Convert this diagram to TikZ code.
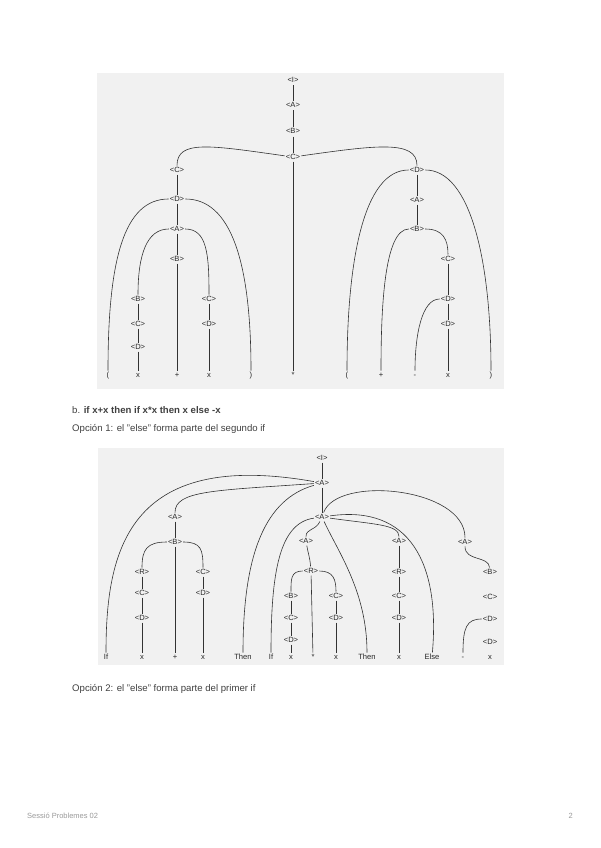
\documentclass[tikz,border=0pt]{standalone}
\usepackage{fontspec}
\setmainfont{Liberation Sans}
\definecolor{boxgray}{HTML}{F1F1F1}
\definecolor{txtgray}{HTML}{404040}
\definecolor{footgray}{HTML}{9A9A9A}

\begin{document}
\begin{tikzpicture}[x=1pt, y=-1pt,
        nt/.style={inner sep=1pt, text height=5.3pt, text depth=1.3pt, font=\fontsize{7.6}{8}\selectfont, text=black!85},
        lf/.style={inner sep=1pt, text height=5.3pt, text depth=1.3pt, font=\fontsize{7.6}{8}\selectfont, text=black!85},
        ln/.style={draw=black!80, line width=0.6pt},
        txt/.style={anchor=base west, inner sep=0pt, font=\fontsize{9.6}{11}\selectfont, text=txtgray},
        foot/.style={anchor=base west, inner sep=0pt, font=\fontsize{7.5}{9}\selectfont, text=footgray}]

        \fill[white] (0,0) rectangle (600,848);
        \useasboundingbox (0,0) rectangle (600,848);
        \fill[boxgray] (97,73) rectangle (504,389);
        \fill[boxgray] (98,448) rectangle (504,665);

        % first tree
        \node[nt] (I1) at (293,81) {<I>};
        \node[nt] (A1) at (293,106) {<A>};
        \node[nt] (B1) at (293,132) {<B>};
        \node[nt] (C1) at (293,157) {<C>};
        \node[nt] (Cl) at (177,170) {<C>};
        \node[nt] (Dl) at (177,199) {<D>};
        \node[nt] (Al) at (177,229) {<A>};
        \node[nt] (Bm) at (177,259) {<B>};
        \node[nt] (Bll) at (138,299) {<B>};
        \node[nt] (Cll) at (138,324) {<C>};
        \node[nt] (Dll) at (138,347) {<D>};
        \node[nt] (Clr) at (209,299) {<C>};
        \node[nt] (Dlr) at (209,324) {<D>};
        \node[nt] (Dr) at (417,170) {<D>};
        \node[nt] (Ar) at (417,200) {<A>};
        \node[nt] (Br) at (417,229) {<B>};
        \node[nt] (Cr) at (448,259) {<C>};
        \node[nt] (Dr1) at (448,299) {<D>};
        \node[nt] (Dr2) at (448,324) {<D>};

        \node[lf] (lpar1) at (108,375) {(};
        \node[lf] (xa) at (138,375) {x};
        \node[lf] (plusa) at (177,375) {+};
        \node[lf] (xb) at (209,375) {x};
        \node[lf] (rpar1) at (251,375) {)};
        \node[lf] (star1) at (293,375) {*};
        \node[lf] (lpar2) at (347,375) {(};
        \node[lf] (plusb) at (381,375) {+};
        \node[lf] (minus1) at (415,375) {-};
        \node[lf] (xc) at (448,375) {x};
        \node[lf] (rpar2) at (491,375) {)};

        \foreach \a/\b in {I1/A1, A1/B1, B1/C1, C1/star1, Cl/Dl, Dl/Al, Al/Bm, Bm/plusa,
                Bll/Cll, Cll/Dll, Dll/xa, Clr/Dlr, Dlr/xb, Dr/Ar, Ar/Br, Cr/Dr1, Dr1/Dr2, Dr2/xc}
            \draw[ln] (\a) -- (\b);

        \draw[ln] (C1) to[out=172, in=90, out distance=75pt, in distance=26pt] (Cl);
        \draw[ln] (C1) to[out=8, in=90, out distance=75pt, in distance=26pt] (Dr);
        \draw[ln] (Dl) to[out=180, in=90, out distance=45pt, in distance=110pt] (lpar1);
        \draw[ln] (Dl) to[out=0, in=90, out distance=45pt, in distance=110pt] (rpar1);
        \draw[ln] (Al) to[out=180, in=90, out distance=22pt, in distance=40pt] (Bll);
        \draw[ln] (Al) to[out=0, in=90, out distance=22pt, in distance=40pt] (Clr);
        \draw[ln] (Dr) to[out=180, in=90, out distance=45pt, in distance=110pt] (lpar2);
        \draw[ln] (Dr) to[out=0, in=90, out distance=45pt, in distance=110pt] (rpar2);
        \draw[ln] (Br) to[out=180, in=90, out distance=25pt, in distance=60pt] (plusb);
        \draw[ln] (Br) to[out=0, in=90, out distance=18pt, in distance=15pt] (Cr);
        \draw[ln] (Dr1) to[out=180, in=90, out distance=18pt, in distance=35pt] (minus1);

        % texts
        \node[txt] (tb) at (72,413) {b. \textbf{if x+x then if x*x then x else -x}};
        \node[txt] (op1) at (72,431) {Opción 1: el "else" forma parte del segundo if};

        % second tree
        \node[nt] (I2) at (322,458) {<I>};
        \node[nt] (Aa) at (322,483) {<A>};
        \node[nt] (Ab) at (322,517) {<A>};
        \node[nt] (Ac) at (175,517) {<A>};
        \node[nt] (Bc) at (175,542) {<B>};
        \node[nt] (Rc) at (142,572) {<R>};
        \node[nt] (Cc) at (142,593) {<C>};
        \node[nt] (Dc) at (142,618) {<D>};
        \node[nt] (Cd) at (203,572) {<C>};
        \node[nt] (Dd) at (203,593) {<D>};
        \node[nt] (Ae) at (306,541) {<A>};
        \node[nt] (Re) at (311,571) {<R>};
        \node[nt] (Be) at (291,596) {<B>};
        \node[nt] (Ce) at (291,618) {<C>};
        \node[nt] (De) at (291,640) {<D>};
        \node[nt] (Cf) at (336,596) {<C>};
        \node[nt] (Df) at (336,618) {<D>};
        \node[nt] (Ag) at (399,541) {<A>};
        \node[nt] (Rg) at (399,572) {<R>};
        \node[nt] (Cg) at (399,596) {<C>};
        \node[nt] (Dg) at (399,618) {<D>};
        \node[nt] (Ah) at (465,542) {<A>};
        \node[nt] (Bh) at (490,572) {<B>};
        \node[nt] (Ch) at (490,597) {<C>};
        \node[nt] (Dh) at (490,619) {<D>};
        \node[nt] (Dh2) at (490,642) {<D>};

        \node[lf] (if1) at (106,657) {If};
        \node[lf] (x3) at (142,657) {x};
        \node[lf] (plus3) at (175,657) {+};
        \node[lf] (x4) at (203,657) {x};
        \node[lf] (then1) at (243,657) {Then};
        \node[lf] (if2) at (271,657) {If};
        \node[lf] (x5) at (291,657) {x};
        \node[lf] (star2) at (313,657) {*};
        \node[lf] (x6) at (336,657) {x};
        \node[lf] (then2) at (367,657) {Then};
        \node[lf] (x7) at (399,657) {x};
        \node[lf] (else1) at (432,657) {Else};
        \node[lf] (minus2) at (463,657) {-};
        \node[lf] (x8) at (490,657) {x};

        \foreach \a/\b in {I2/Aa, Aa/Ab, Ac/Bc, Bc/plus3, Rc/Cc, Cc/Dc, Dc/x3, Cd/Dd, Dd/x4,
                Re/star2, Be/Ce, Ce/De, De/x5, Cf/Df, Df/x6, Ag/Rg, Rg/Cg, Cg/Dg, Dg/x7}
            \draw[ln] (\a) -- (\b);

        \draw[ln] (Aa) to[out=170, in=90, out distance=190pt, in distance=100pt] (if1);
        \draw[ln] (Aa) to[out=184, in=90, out distance=100pt, in distance=22pt] (Ac);
        \draw[ln] (Aa) to[out=196, in=90, out distance=50pt, in distance=100pt] (then1);
        \draw[ln] (Ab) to[out=188, in=90, out distance=35pt, in distance=80pt] (if2);
        \draw[ln] (Ab) to[out=-115, in=90, out distance=10pt, in distance=8pt] (Ae);
        \draw[ln] (Ab) to[out=-65, in=90, out distance=35pt, in distance=60pt] (then2);
        \draw[ln] (Ab) to[out=-8, in=90, out distance=45pt, in distance=12pt] (Ag);
        \draw[ln] (Ab) to[out=8, in=85, out distance=80pt, in distance=90pt] (else1);
        \draw[ln] (Ab) to[out=70, in=90, out distance=40pt, in distance=50pt] (Ah);
        \draw[ln] (Ah) to[out=-90, in=95, out distance=15pt, in distance=12pt] (Bh);
        \draw[ln] (Dh) to[out=180, in=90, out distance=15pt, in distance=25pt] (minus2);
        \draw[ln] (Bc) to[out=180, in=90, out distance=20pt, in distance=18pt] (Rc);
        \draw[ln] (Bc) to[out=0, in=90, out distance=18pt, in distance=18pt] (Cd);
        \draw[ln] (Ae) to[out=-80, in=95, out distance=10pt, in distance=10pt] (Re);
        \draw[ln] (Re) to[out=180, in=90, out distance=12pt, in distance=12pt] (Be);
        \draw[ln] (Re) to[out=0, in=90, out distance=14pt, in distance=12pt] (Cf);

        \node[txt] (op2) at (72,691) {Opción 2: el "else" forma parte del primer if};
        \node[foot] (ft) at (27,818) {Sessió Problemes 02};
        \node[foot, anchor=base east] (pg) at (573,818) {2};
    \end{tikzpicture}
\end{document}
